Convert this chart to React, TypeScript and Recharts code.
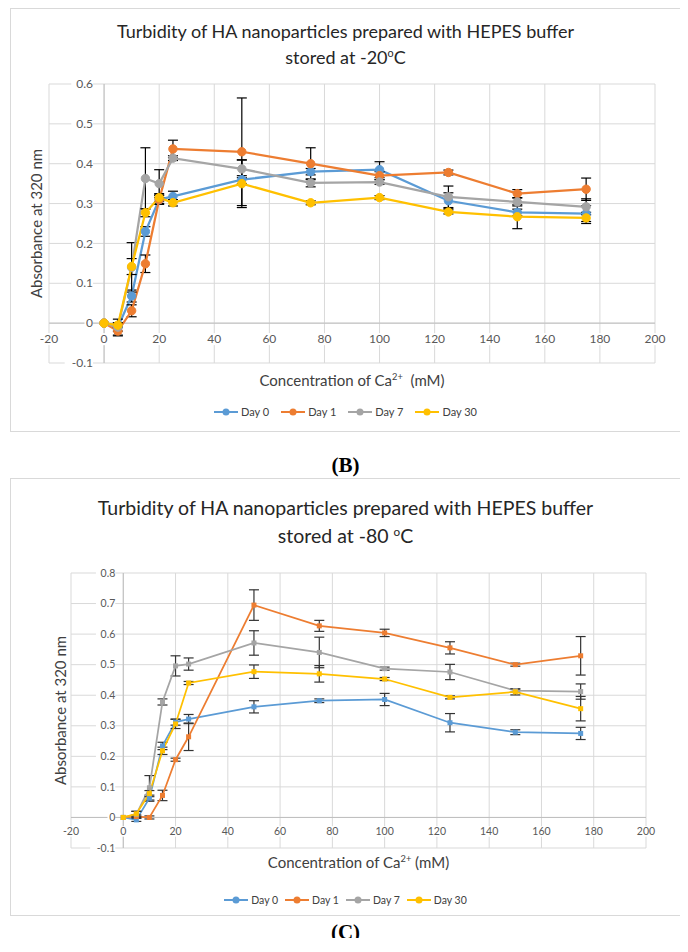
import React from 'react';
import { LineChart, Line, XAxis, YAxis, CartesianGrid, ErrorBar, ReferenceLine, Label } from 'recharts';

const concentrations = [0, 5, 10, 15, 20, 25, 50, 75, 100, 125, 150, 175];
const xTicks = [-20, 0, 20, 40, 60, 80, 100, 120, 140, 160, 180, 200];
const yTicksB = [-0.1, 0, 0.1, 0.2, 0.3, 0.4, 0.5, 0.6];
const yTicksC = [-0.1, 0, 0.1, 0.2, 0.3, 0.4, 0.5, 0.6, 0.7, 0.8];
const seriesNames = ['Day 0', 'Day 1', 'Day 7', 'Day 30'];
const seriesColors = ['#5B9BD5', '#ED7D31', '#A5A5A5', '#FFC000'];

// (B) stored at -20 ºC
const day0B = [0, -0.01, 0.068, 0.23, 0.31, 0.318, 0.36, 0.38, 0.385, 0.307, 0.278, 0.275];
const day0BErr = [0, 0.01, 0.015, 0.012, 0.01, 0.013, 0.01, 0.008, 0.02, 0.02, 0.008, 0.02];
const day1B = [0, -0.02, 0.031, 0.149, 0.31, 0.437, 0.43, 0.4, 0.37, 0.378, 0.325, 0.336];
const day1BErr = [0, 0.012, 0.015, 0.022, 0.012, 0.022, 0.135, 0.04, 0.01, 0.006, 0.01, 0.028];
const day7B = [0, -0.01, 0.14, 0.363, 0.35, 0.414, 0.387, 0.352, 0.354, 0.317, 0.304, 0.292];
const day7BErr = [0, 0.02, 0.062, 0.077, 0.035, 0.006, 0.022, 0.01, 0.006, 0.027, 0.01, 0.02];
const day30B = [0, -0.005, 0.142, 0.277, 0.315, 0.302, 0.35, 0.302, 0.315, 0.279, 0.267, 0.264];
const day30BErr = [0, 0.006, 0.02, 0.01, 0.01, 0.008, 0.06, 0.005, 0.005, 0.005, 0.03, 0.014];

// (C) stored at -80 ºC
const day0C = [0, -0.008, 0.063, 0.234, 0.312, 0.322, 0.362, 0.382, 0.386, 0.31, 0.279, 0.275];
const day0CErr = [0, 0.005, 0.01, 0.012, 0.01, 0.015, 0.02, 0.006, 0.02, 0.03, 0.008, 0.02];
const day1C = [0, 0.003, 0.0, 0.072, 0.189, 0.264, 0.695, 0.627, 0.604, 0.555, 0.5, 0.529];
const day1CErr = [0, 0.005, 0.005, 0.017, 0.005, 0.045, 0.05, 0.018, 0.012, 0.02, 0.005, 0.063];
const day7C = [0, 0.01, 0.097, 0.378, 0.496, 0.502, 0.571, 0.54, 0.487, 0.476, 0.415, 0.412];
const day7CErr = [0, 0.01, 0.04, 0.01, 0.033, 0.02, 0.04, 0.05, 0.005, 0.025, 0.005, 0.025];
const day30C = [0, 0.012, 0.078, 0.218, 0.306, 0.44, 0.477, 0.47, 0.453, 0.393, 0.411, 0.356];
const day30CErr = [0, 0.008, 0.01, 0.012, 0.015, 0.005, 0.022, 0.027, 0.005, 0.005, 0.01, 0.04];

const toPoints = (vals: number[], errs: number[]) =>
  concentrations.map((x, i) => ({ x, y: vals[i], err: errs[i] }));

const FONT = 'Lato, "Open Sans", sans-serif';
const CHART_W = 669;

type PanelProps = {
  top: number;
  height: number;
  chartH: number;
  margin: { top: number; left: number; right: number; bottom: number };
  titleTop: number;
  titleSize: number;
  titleLine2: React.ReactNode;
  yTicks: number[];
  yTitleX: number;
  tickSize: number;
  xTickDy: number;
  yTickGap: number;
  xTitleTop: number;
  legendTop: number;
  legendSize: number;
  legendGap: number;
  series: { y: number[]; err: number[] }[];
  square: boolean;
  lineWidth: number;
  errColor: string;
};

const Legend = ({ size, gap }: { size: number; gap: number }) => (
  <div style={{ display: 'flex', justifyContent: 'center', alignItems: 'center', gap, fontSize: size, color: '#404040' }}>
    {seriesNames.map((n, i) => (
      <div key={n} style={{ display: 'flex', alignItems: 'center' }}>
        <svg width={24} height={10} style={{ marginRight: 3 }}>
          <line x1={0} y1={5} x2={24} y2={5} stroke={seriesColors[i]} strokeWidth={2} />
          <circle cx={12} cy={5} r={3.5} fill={seriesColors[i]} />
        </svg>
        <span>{n}</span>
      </div>
    ))}
  </div>
);

const Panel = (p: PanelProps) => {
  const yMin = p.yTicks[0];
  const yMax = p.yTicks[p.yTicks.length - 1];
  const plotLeft = p.margin.left + 1;
  const plotW = CHART_W - plotLeft - p.margin.right;
  const plotH = p.chartH - p.margin.top - p.margin.bottom - 1;
  const zeroX = plotLeft + (plotW * (0 - xTicks[0])) / (xTicks[xTicks.length - 1] - xTicks[0]);
  const zeroY = p.margin.top + (plotH * yMax) / (yMax - yMin);

  const YTick = (props: any) => {
    const label = String(props.payload.value);
    const w = label.length * p.tickSize * 0.55 + 2;
    const right = zeroX - p.yTickGap;
    return (
      <g>
        <rect x={right - w} y={props.y - p.tickSize / 2} width={w} height={p.tickSize} fill="#fff" />
        <text x={right} y={props.y} dy="0.35em" textAnchor="end" fontSize={p.tickSize} fill="#595959" fontFamily={FONT}>
          {label}
        </text>
      </g>
    );
  };

  const XTick = (props: any) => {
    const label = String(props.payload.value);
    const w = label.length * p.tickSize * 0.55 + 2;
    const cy = zeroY + p.xTickDy;
    return (
      <g>
        <rect x={props.x - w / 2} y={cy - p.tickSize / 2} width={w} height={p.tickSize} fill="#fff" />
        <text x={props.x} y={cy} dy="0.35em" textAnchor="middle" fontSize={p.tickSize} fill="#595959" fontFamily={FONT}>
          {label}
        </text>
      </g>
    );
  };

  const makeSquare = (color: string) => (d: any) => (
    <rect key={`sq-${d.index}`} x={d.cx - 2.5} y={d.cy - 2.5} width={5} height={5} fill={color} />
  );

  return (
    <div
      style={{
        position: 'absolute',
        left: 2,
        top: p.top,
        width: CHART_W + 2,
        height: p.height,
        boxSizing: 'border-box',
        border: '1px solid #d9d9d9',
        fontFamily: FONT,
      }}
    >
      <div
        style={{
          position: 'absolute',
          top: p.titleTop,
          left: 0,
          width: CHART_W,
          textAlign: 'center',
          fontSize: p.titleSize,
          lineHeight: `${p.titleSize * 1.45}px`,
          color: '#262626',
        }}
      >
        Turbidity of HA nanoparticles prepared with HEPES buffer
        <br />
        {p.titleLine2}
      </div>
      <div style={{ position: 'absolute', top: 0, left: 0 }}>
        <LineChart width={CHART_W} height={p.chartH} margin={p.margin}>
          <CartesianGrid stroke="#d9d9d9" strokeWidth={1} />
          <XAxis
            dataKey="x"
            type="number"
            domain={[xTicks[0], xTicks[xTicks.length - 1]]}
            ticks={xTicks}
            height={1}
            axisLine={false}
            tickLine={false}
            tick={<XTick />}
            interval={0}
          />
          <YAxis
            type="number"
            domain={[yMin, yMax]}
            ticks={p.yTicks}
            width={1}
            axisLine={false}
            tickLine={false}
            tick={<YTick />}
            interval={0}
          >
            <Label
              content={(lp: any) => {
                const vb = lp.viewBox || {};
                const cy = vb.y + vb.height / 2;
                return (
                  <text
                    x={p.yTitleX}
                    y={cy}
                    transform={`rotate(-90, ${p.yTitleX}, ${cy})`}
                    textAnchor="middle"
                    dy="0.35em"
                    fontSize={15}
                    fill="#404040"
                    fontFamily={FONT}
                  >
                    Absorbance at 320 nm
                  </text>
                );
              }}
            />
          </YAxis>
          <ReferenceLine x={0} stroke="#bfbfbf" strokeWidth={1} />
          <ReferenceLine y={0} stroke="#bfbfbf" strokeWidth={1} />
          {p.series.map((s, i) => (
            <Line
              key={seriesNames[i]}
              data={toPoints(s.y, s.err)}
              dataKey="y"
              name={seriesNames[i]}
              stroke={seriesColors[i]}
              strokeWidth={p.lineWidth}
              isAnimationActive={false}
              dot={p.square ? makeSquare(seriesColors[i]) : { r: 4.2, fill: seriesColors[i], stroke: seriesColors[i], strokeWidth: 1 }}
              activeDot={false}
            >
              <ErrorBar dataKey="err" direction="y" width={5} stroke={p.errColor} strokeWidth={1.2} isAnimationActive={false} />
            </Line>
          ))}
        </LineChart>
      </div>
      <div
        style={{
          position: 'absolute',
          top: p.xTitleTop,
          left: plotLeft,
          width: plotW,
          textAlign: 'center',
          fontSize: 15,
          lineHeight: '18px',
          color: '#404040',
        }}
      >
        Concentration of Ca<sup style={{ fontSize: '0.62em', lineHeight: 0 }}>2+</sup>
        {p.square ? ' (mM)' : '\u00a0 (mM)'}
      </div>
      <div style={{ position: 'absolute', top: p.legendTop, left: 0, width: CHART_W }}>
        <Legend size={p.legendSize} gap={p.legendGap} />
      </div>
    </div>
  );
};

const Caption = ({ top, text }: { top: number; text: string }) => (
  <div
    style={{
      position: 'absolute',
      top,
      left: 0,
      width: 675,
      textAlign: 'center',
      fontFamily: '"Liberation Serif", serif',
      fontWeight: 'bold',
      fontSize: 21,
      lineHeight: '24px',
      color: '#000',
    }}
  >
    {text}
  </div>
);

export default function App() {
  return (
    <div style={{ position: 'relative', width: 672, height: 930 }}>
      <Panel
        top={0}
        height={424}
        chartH={372}
        margin={{ top: 75, left: 37, right: 25, bottom: 17 }}
        titleTop={9}
        titleSize={18}
        titleLine2={
          <span>
            stored at -20<sup style={{ fontSize: '0.6em', lineHeight: 0 }}>o</sup>C
          </span>
        }
        yTicks={yTicksB}
        yTitleX={26}
        tickSize={12}
        xTickDy={16}
        yTickGap={11}
        xTitleTop={362}
        legendTop={396}
        legendSize={11}
        legendGap={12}
        series={[
          { y: day0B, err: day0BErr },
          { y: day1B, err: day1BErr },
          { y: day7B, err: day7BErr },
          { y: day30B, err: day30BErr },
        ]}
        square={false}
        lineWidth={2.25}
        errColor="#000"
      />
      <Caption top={445} text="(B)" />
      <Panel
        top={470}
        height={438}
        chartH={387}
        margin={{ top: 94, left: 59, right: 34, bottom: 17 }}
        titleTop={15}
        titleSize={19.5}
        titleLine2={
          <span>
            stored at -80 <sup style={{ fontSize: '0.6em', lineHeight: 0 }}>o</sup>C
          </span>
        }
        yTicks={yTicksC}
        yTitleX={50}
        tickSize={10.5}
        xTickDy={14}
        yTickGap={8}
        xTitleTop={374}
        legendTop={415}
        legendSize={10.5}
        legendGap={7}
        series={[
          { y: day0C, err: day0CErr },
          { y: day1C, err: day1CErr },
          { y: day7C, err: day7CErr },
          { y: day30C, err: day30CErr },
        ]}
        square={true}
        lineWidth={1.75}
        errColor="#333"
      />
      <Caption top={912} text="(C)" />
    </div>
  );
}
